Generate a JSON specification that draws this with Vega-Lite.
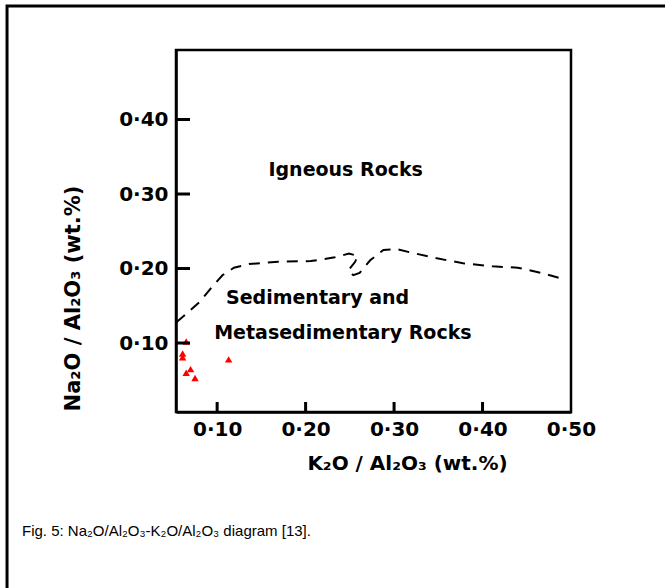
{
  "$schema": "https://vega.github.io/schema/vega-lite/v6.json",
  "width": 395,
  "height": 362,
  "autosize": {"type": "none"},
  "padding": {"left": 176, "top": 50, "right": 94, "bottom": 176},
  "background": "white",
  "datasets": {
    "samples": [
      {"k": 0.065, "na": 0.102},
      {"k": 0.061, "na": 0.086},
      {"k": 0.061, "na": 0.081},
      {"k": 0.070, "na": 0.065},
      {"k": 0.065, "na": 0.060},
      {"k": 0.075, "na": 0.053},
      {"k": 0.113, "na": 0.078}
    ],
    "boundary": [
      {"i": 1, "k": 0.054, "na": 0.128},
      {"i": 2, "k": 0.065, "na": 0.139},
      {"i": 3, "k": 0.080, "na": 0.155},
      {"i": 4, "k": 0.094, "na": 0.175},
      {"i": 5, "k": 0.106, "na": 0.191},
      {"i": 6, "k": 0.119, "na": 0.201},
      {"i": 7, "k": 0.136, "na": 0.206},
      {"i": 8, "k": 0.169, "na": 0.209},
      {"i": 9, "k": 0.206, "na": 0.210},
      {"i": 10, "k": 0.233, "na": 0.215},
      {"i": 11, "k": 0.249, "na": 0.220},
      {"i": 12, "k": 0.259, "na": 0.217},
      {"i": 13, "k": 0.256, "na": 0.209},
      {"i": 14, "k": 0.248, "na": 0.197},
      {"i": 15, "k": 0.254, "na": 0.191},
      {"i": 16, "k": 0.261, "na": 0.194},
      {"i": 17, "k": 0.273, "na": 0.211},
      {"i": 18, "k": 0.288, "na": 0.225},
      {"i": 19, "k": 0.303, "na": 0.226},
      {"i": 20, "k": 0.317, "na": 0.222},
      {"i": 21, "k": 0.347, "na": 0.214},
      {"i": 22, "k": 0.378, "na": 0.207},
      {"i": 23, "k": 0.411, "na": 0.203},
      {"i": 24, "k": 0.440, "na": 0.201},
      {"i": 25, "k": 0.467, "na": 0.194},
      {"i": 26, "k": 0.494, "na": 0.185}
    ],
    "fields": [
      {"label": "Igneous Rocks", "k": 0.158, "na": 0.332},
      {"label": "Sedimentary and", "k": 0.110, "na": 0.160},
      {"label": "Metasedimentary Rocks", "k": 0.0967, "na": 0.113}
    ],
    "yticks": [{"v": 0.1}, {"v": 0.2}, {"v": 0.3}, {"v": 0.4}],
    "xticks": [{"v": 0.1}, {"v": 0.2}, {"v": 0.3}, {"v": 0.4}]
  },
  "layer": [
    {
      "data": {"values": [{}]},
      "mark": {"type": "rect", "fillOpacity": 0, "stroke": "black", "strokeWidth": 3, "clip": false},
      "encoding": {
        "x": {"datum": -0.1375, "type": "quantitative"},
        "x2": {"datum": 0.76},
        "y": {"datum": 0.5524, "type": "quantitative"},
        "y2": {"datum": -0.38}
      }
    },
    {
      "data": {"values": [{"caption": "Fig. 5: Na₂O/Al₂O₃-K₂O/Al₂O₃ diagram [13]."}]},
      "mark": {"type": "text", "align": "left", "baseline": "middle", "font": "Liberation Sans", "fontSize": 15, "color": "black", "clip": false},
      "encoding": {
        "x": {"datum": -0.1206, "type": "quantitative"},
        "y": {"datum": -0.1523, "type": "quantitative"},
        "text": {"field": "caption", "type": "nominal"}
      }
    },
    {
      "data": {"name": "boundary"},
      "mark": {"type": "line", "color": "black", "strokeWidth": 2, "strokeDash": [11, 8], "interpolate": "linear"},
      "encoding": {
        "x": {"field": "k", "type": "quantitative"},
        "y": {"field": "na", "type": "quantitative"},
        "order": {"field": "i", "type": "quantitative"}
      }
    },
    {
      "data": {"name": "fields"},
      "mark": {"type": "text", "align": "left", "baseline": "middle", "font": "DejaVu Sans", "fontSize": 19, "fontWeight": "bold", "color": "black"},
      "encoding": {
        "x": {"field": "k", "type": "quantitative"},
        "y": {"field": "na", "type": "quantitative"},
        "text": {"field": "label", "type": "nominal"}
      }
    },
    {
      "data": {"name": "samples"},
      "mark": {"type": "point", "shape": "triangle-up", "filled": true, "color": "#ff0000", "size": 55, "opacity": 1},
      "encoding": {
        "x": {
          "field": "k",
          "type": "quantitative",
          "scale": {"domain": [0.0535, 0.5], "nice": false, "zero": false},
          "axis": {
            "values": [0.1, 0.2, 0.3, 0.4, 0.5],
            "labelExpr": "replace(format(datum.value, '.2f'), '.', '·')",
            "title": "K₂O / Al₂O₃ (wt.%)",
            "titleX": 231,
            "titleY": 51,
            "titleFontSize": 20,
            "titleBaseline": "middle",
            "titleAlign": "center",
            "ticks": false,
            "labelPadding": 7
          }
        },
        "y": {
          "field": "na",
          "type": "quantitative",
          "scale": {"domain": [0.0074, 0.4933], "nice": false, "zero": false},
          "axis": {
            "values": [0.1, 0.2, 0.3, 0.4],
            "labelExpr": "replace(format(datum.value, '.2f'), '.', '·')",
            "title": "Na₂O / Al₂O₃ (wt.%)",
            "titleX": -103,
            "titleY": 248,
            "titleFontSize": 21,
            "titleAngle": -90,
            "titleBaseline": "middle",
            "titleAlign": "center",
            "ticks": false,
            "labelPadding": 8
          }
        }
      }
    },
    {
      "data": {"name": "yticks"},
      "mark": {"type": "tick", "orient": "horizontal", "color": "black", "size": 14, "thickness": 3, "opacity": 1},
      "encoding": {
        "y": {"field": "v", "type": "quantitative"},
        "x": {"datum": 0.0614, "type": "quantitative"}
      }
    },
    {
      "data": {"name": "xticks"},
      "mark": {"type": "tick", "orient": "vertical", "color": "black", "size": 10, "thickness": 3, "opacity": 1},
      "encoding": {
        "x": {"field": "v", "type": "quantitative"},
        "y": {"datum": 0.0141, "type": "quantitative"}
      }
    }
  ],
  "config": {
    "view": {"stroke": "black", "strokeWidth": 2.5},
    "axis": {
      "grid": false,
      "domainColor": "black",
      "domainWidth": 2.5,
      "labelFont": "DejaVu Sans",
      "labelFontSize": 20,
      "labelFontWeight": "bold",
      "labelColor": "black",
      "labelFlush": false,
      "labelOverlap": false,
      "labelBound": false,
      "titleFont": "DejaVu Sans",
      "titleFontWeight": "bold",
      "titleColor": "black"
    }
  }
}
